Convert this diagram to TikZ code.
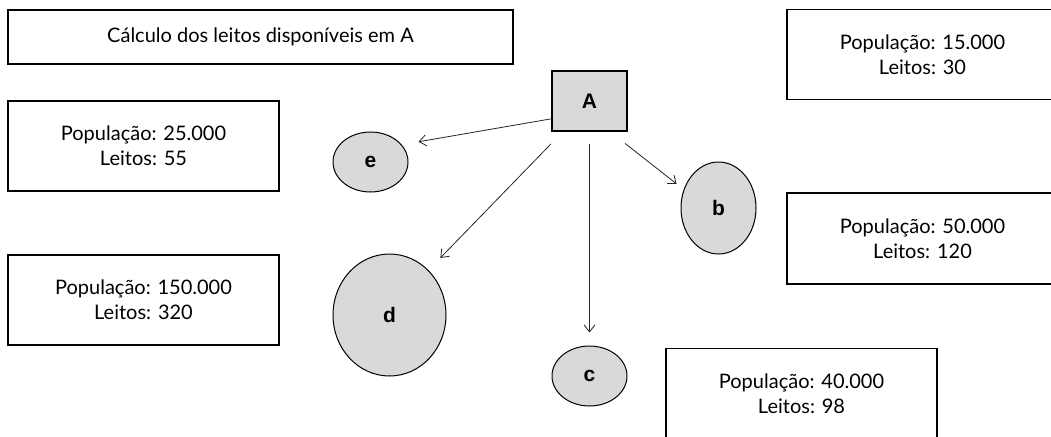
\documentclass[tikz,border=0pt]{standalone}
\usepackage{fontspec}
\setmainfont{Lato}
\newfontfamily\labelfont{Liberation Sans}
\usepackage{tikz}
\usetikzlibrary{arrows.meta,shapes}

\begin{document}
\begin{tikzpicture}[x=1pt,y=-1pt,
  every node/.style={font=\fontsize{20}{25}\selectfont, inner sep=0pt},
  infobox/.style={rectangle, draw, line width=1.4pt, minimum width=271pt,
                  minimum height=90pt, align=center},
  hnode/.style={ellipse, draw, line width=1pt, fill=black!15,
                font=\labelfont\bfseries\fontsize{21}{22}\selectfont},
  anode/.style={rectangle, draw, line width=1.4pt, fill=black!15,
                minimum width=75pt, minimum height=60pt,
                font=\labelfont\bfseries\fontsize{21}{22}\selectfont},
  link/.style={-{Straight Barb[length=7pt,width=11pt]}, black!85, line width=0.8pt}]

\clip (0,0) rectangle (1051,436);

% caixas de texto
\node (title) [infobox, minimum width=505pt, minimum height=54pt] at (260.5,37)
  {Cálculo dos leitos disponíveis em A};
\node (pe) [infobox] at (143.5,146) {População: 25.000\\Leitos: 55};
\node (pd) [infobox] at (143.5,300) {População: 150.000\\Leitos: 320};
\node (pa) [infobox] at (922.5,54.5) {População: 15.000\\Leitos: 30};
\node (pb) [infobox, minimum height=91pt] at (922.5,238.5) {População: 50.000\\Leitos: 120};
\node (pc) [infobox] at (801.5,393.5) {População: 40.000\\Leitos: 98};

% hospitais
\node (A) [anode] at (589.5,101) {A};
\node (e) [hnode, minimum width=75pt, minimum height=60pt] at (370.5,162) {e};
\node (b) [hnode, minimum width=75pt, minimum height=92pt] at (718.5,208) {b};
\node (d) [hnode, minimum width=113pt, minimum height=122pt] at (389.5,315) {d};
\node (c) [hnode, minimum width=75pt, minimum height=60pt] at (589.5,376) {c};

\draw [link, shorten >=17pt] (A.205) -- (e.29);
\draw [link, shorten <=17pt, shorten >=17pt] (A.229) -- (d.49);
\draw [link, shorten <=12pt, shorten >=13pt] (A.south) -- (c.north);
\draw [link, shorten <=19pt, shorten >=9pt] (A.304) -- (b.152);

\end{tikzpicture}
\end{document}
